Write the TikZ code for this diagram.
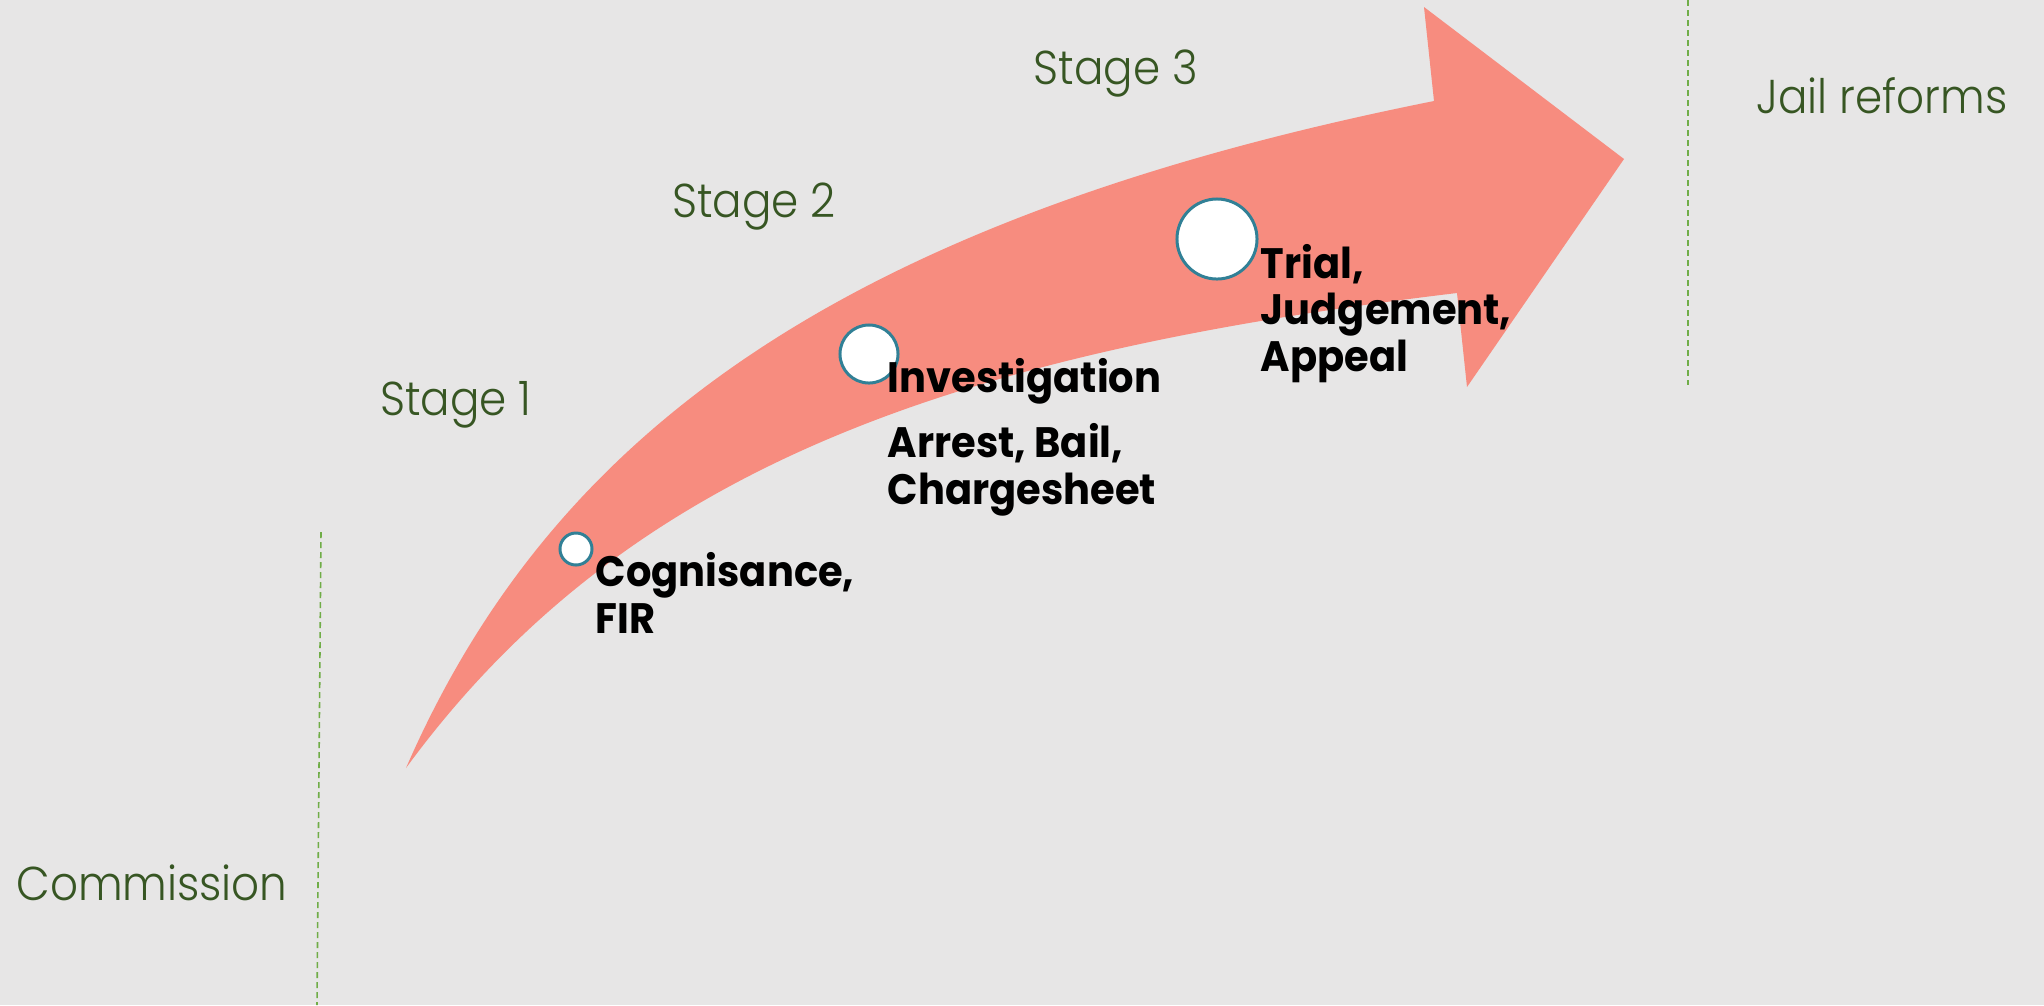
\documentclass[tikz,border=0pt]{standalone}
\usepackage{fontspec}
\setmainfont{Poppins}[FakeStretch=0.94]
\newfontfamily\thinfont{Poppins Light}[FakeStretch=0.92]

\definecolor{bgcol}{RGB}{231,230,230}
\definecolor{arrowcol}{RGB}{247,140,127}
\definecolor{stagegreen}{RGB}{55,86,35}
\definecolor{dashgreen}{RGB}{112,173,71}
\definecolor{ringcol}{RGB}{49,128,150}

\begin{document}
\begin{tikzpicture}[x=0.01cm,y=-0.01cm,
  stagetext/.style={anchor=base, text=stagegreen, inner sep=0,
    font=\thinfont\fontsize{13.5}{16}\selectfont},
  eventtext/.style={anchor=base west, align=left, inner sep=0,
    font=\bfseries\fontsize{12.1}{13.2}\selectfont},
  milestone/.style={circle, draw=ringcol, line width=0.85pt, fill=white, inner sep=0},
  divider/.style={draw=dashgreen, line width=0.45pt, dash pattern=on 0.06cm off 0.04cm}]

  % canvas
  \fill[bgcol] (0,0) rectangle (2044,1005);
  \useasboundingbox (0,0) rectangle (2044,1005);

  % dashed dividers
  \coordinate (lt) at (321,532);
  \coordinate (lb) at (317,1005);
  \coordinate (rt) at (1688,0);
  \coordinate (rb) at (1688,385);
  \draw[divider] (lt) -- (lb);
  \draw[divider] (rt) -- (rb);

  % curved block arrow
  \fill[arrowcol] (406,768) .. controls (550,438) and (834,221) .. (1434,101)
    -- (1424,7) -- (1624,159) -- (1467,387) -- (1457,293)
    .. controls (957,353) and (628,465) .. (406,768) -- cycle;

  % milestones on the arrow
  \node[milestone, minimum size=0.32cm] (m1) at (576,549) {};
  \node[milestone, minimum size=0.58cm] (m2) at (869,354) {};
  \node[milestone, minimum size=0.80cm] (m3) at (1217,239) {};

  % stage labels
  \node[stagetext] (s1) at (456,415) {Stage 1};
  \node[stagetext] (s2) at (754,217) {Stage 2};
  \node[stagetext] (s3) at (1116,84) {Stage 3};
  \node[stagetext] (com) at (152,900) {Commission};
  \node[stagetext] (jail) at (1882,113) {Jail reforms};

  % event labels (multi-line nodes sit on the baseline of their last line)
  \node[eventtext] (e1) at (595,633) {Cognisance,\\FIR};
  \node[eventtext] (e2) at (887,392) {Investigation};
  \node[eventtext] (e2b) at (887,504) {Arrest, Bail,\\Chargesheet};
  \node[eventtext] (e3) at (1260,371) {Trial,\\Judgement,\\Appeal};
\end{tikzpicture}
\end{document}
